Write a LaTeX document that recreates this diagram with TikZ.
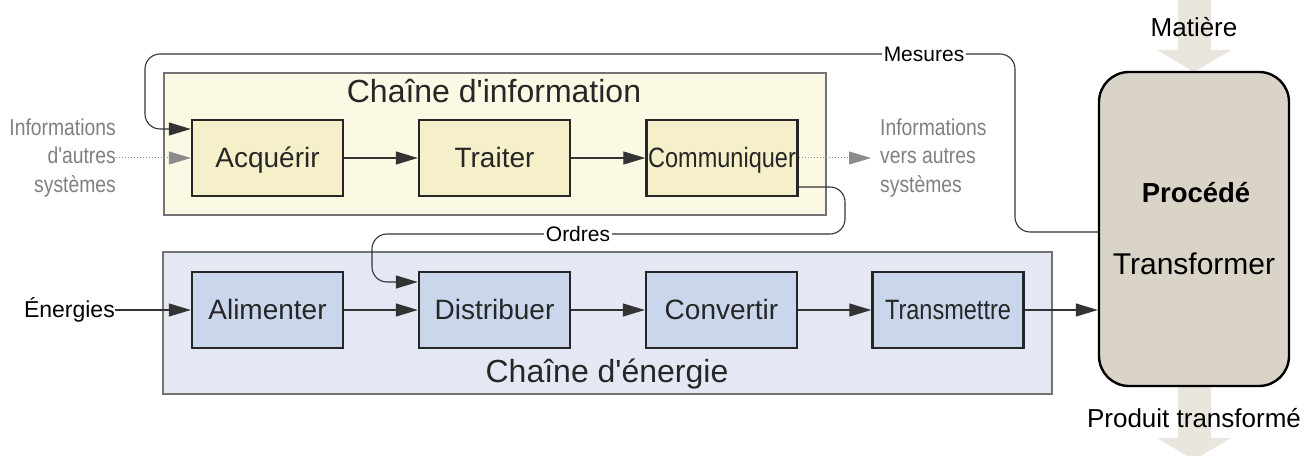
\documentclass[tikz,border=0pt]{standalone}
\usepackage{fontspec}
\setmainfont[Ligatures=TeXOff]{Liberation Sans}
\newfontfamily\narrowsf[FakeStretch=0.84]{Liberation Sans}
\usetikzlibrary{arrows.meta}
\definecolor{infobg}{HTML}{FBF8E4}
\definecolor{infobox}{HTML}{F6F0CA}
\definecolor{enbg}{HTML}{E3E8F4}
\definecolor{enbox}{HTML}{C9D6EB}
\definecolor{procfill}{HTML}{DAD4C8}
\definecolor{matter}{HTML}{EAE6DE}

\begin{document}
\begin{tikzpicture}[
  x=1pt,y=1pt,
  chain/.style={draw=black!55,line width=1.3pt,inner sep=0pt},
  block/.style={draw=black!85,line width=2.4pt,minimum width=151pt,minimum height=76pt,
    inner sep=0pt,text height=20pt,text depth=0pt,text=black!85,
    font=\fontsize{28}{34}\selectfont},
  narrow/.style={font=\narrowsf\fontsize{28}{34}\selectfont},
  title/.style={anchor=base,text=black!85,font=\fontsize{32}{38}\selectfont},
  flow/.style={draw=black!80,line width=1.1pt,-{Triangle[length=22pt,width=13pt]}},
  ext/.style={draw=black!45,line width=1pt,dotted,
    -{Triangle[length=22pt,width=13pt,color=black!45]}},
  note/.style={fill=white,inner sep=2pt,text height=15pt,text depth=0pt,
    font=\fontsize{21}{25}\selectfont},
  side/.style={inner sep=0pt,text=black!50,font=\narrowsf\fontsize{23}{28.5}\selectfont}]
  \clip (0,0) rectangle (1316,455);
  \fill[white] (0,0) rectangle (1316,455);

  % material in and out
  \fill[matter] (1178,455) -- (1178,405) -- (1157,405) -- (1194,383)
    -- (1231,405) -- (1211,405) -- (1211,455) -- cycle;
  \fill[matter] (1178,69) -- (1178,17) -- (1157,17) -- (1194,-5)
    -- (1231,17) -- (1211,17) -- (1211,69) -- cycle;
  \node[anchor=base,font=\fontsize{26}{30}\selectfont] (mat) at (1194,418) {Matière};
  \node[anchor=base,font=\fontsize{26}{30}\selectfont] (prod) at (1194,28) {Produit transformé};

  \node[draw=black,line width=2.4pt,fill=procfill,rounded corners=30pt,
    minimum width=190pt,minimum height=314pt] (proc) at (1194,226) {};
  \node[anchor=base,font=\bfseries\fontsize{27.5}{32}\selectfont] (procname) at (1196,252) {Procédé};
  \node[anchor=base,font=\fontsize{30}{36}\selectfont] (transf) at (1194,180) {Transformer};

  % chaine d'information
  \node[chain,fill=infobg,minimum width=662pt,minimum height=142pt] (info) at (495,311) {};
  \node[title] (infotitle) at (494,352) {Chaîne d'information};
  \node[block,fill=infobox] (acq) at (267.5,297) {Acquérir};
  \node[block,fill=infobox] (tra) at (494.5,297) {Traiter};
  \node[block,narrow,fill=infobox] (com) at (722,297) {Communiquer};

  % chaine d'energie
  \node[chain,fill=enbg,minimum width=889pt,minimum height=142pt] (energy) at (607.5,132) {};
  \node[title] (entitle) at (607,73) {Chaîne d'énergie};
  \node[block,fill=enbox] (ali) at (267.5,145) {Alimenter};
  \node[block,fill=enbox] (dis) at (494.5,145) {Distribuer};
  \node[block,fill=enbox] (con) at (721.5,145) {Convertir};
  \node[block,narrow,fill=enbox] (trm) at (948,145) {Transmettre};

  \node[side,align=right,anchor=east] (infoin) at (116,297)
    {Informations\\d'autres\\systèmes};
  \node[side,align=left,anchor=west] (infoout) at (880,297)
    {Informations\\vers autres\\systèmes};
  \node[anchor=east,inner sep=0pt,font=\fontsize{23}{28}\selectfont] (en) at (115,145) {Énergies};

  \draw[ext] (infoin.east |- acq.west) -- (acq.west);
  \draw[ext,shorten >=9pt] (com.east) -- (com.east -| infoout.west);
  \draw[flow] (acq) -- (tra);
  \draw[flow] (tra) -- (com);
  \draw[flow] (en) -- (ali);
  \draw[flow] (ali) -- (dis);
  \draw[flow] (dis) -- (con);
  \draw[flow] (con) -- (trm);
  \draw[flow] (trm.east) -- (trm.east -| proc.west);

  % retours
  \coordinate (mesR) at (1015,401);
  \coordinate (mesL) at (145,326);
  \draw[flow,rounded corners=15pt] ([yshift=-3pt]proc.west) -| (mesR) -| (mesL)
    -- ([yshift=29pt]acq.west);
  \node[note] (mes) at (924,401) {Mesures};
  \coordinate (ordR) at (845,221);
  \coordinate (ordL) at (372,173);
  \draw[flow,rounded corners=15pt] ([yshift=-29pt]com.east) -| (ordR) -| (ordL)
    -- ([yshift=28pt]dis.west);
  \node[note] (ord) at (578,221) {Ordres};
\end{tikzpicture}
\end{document}
